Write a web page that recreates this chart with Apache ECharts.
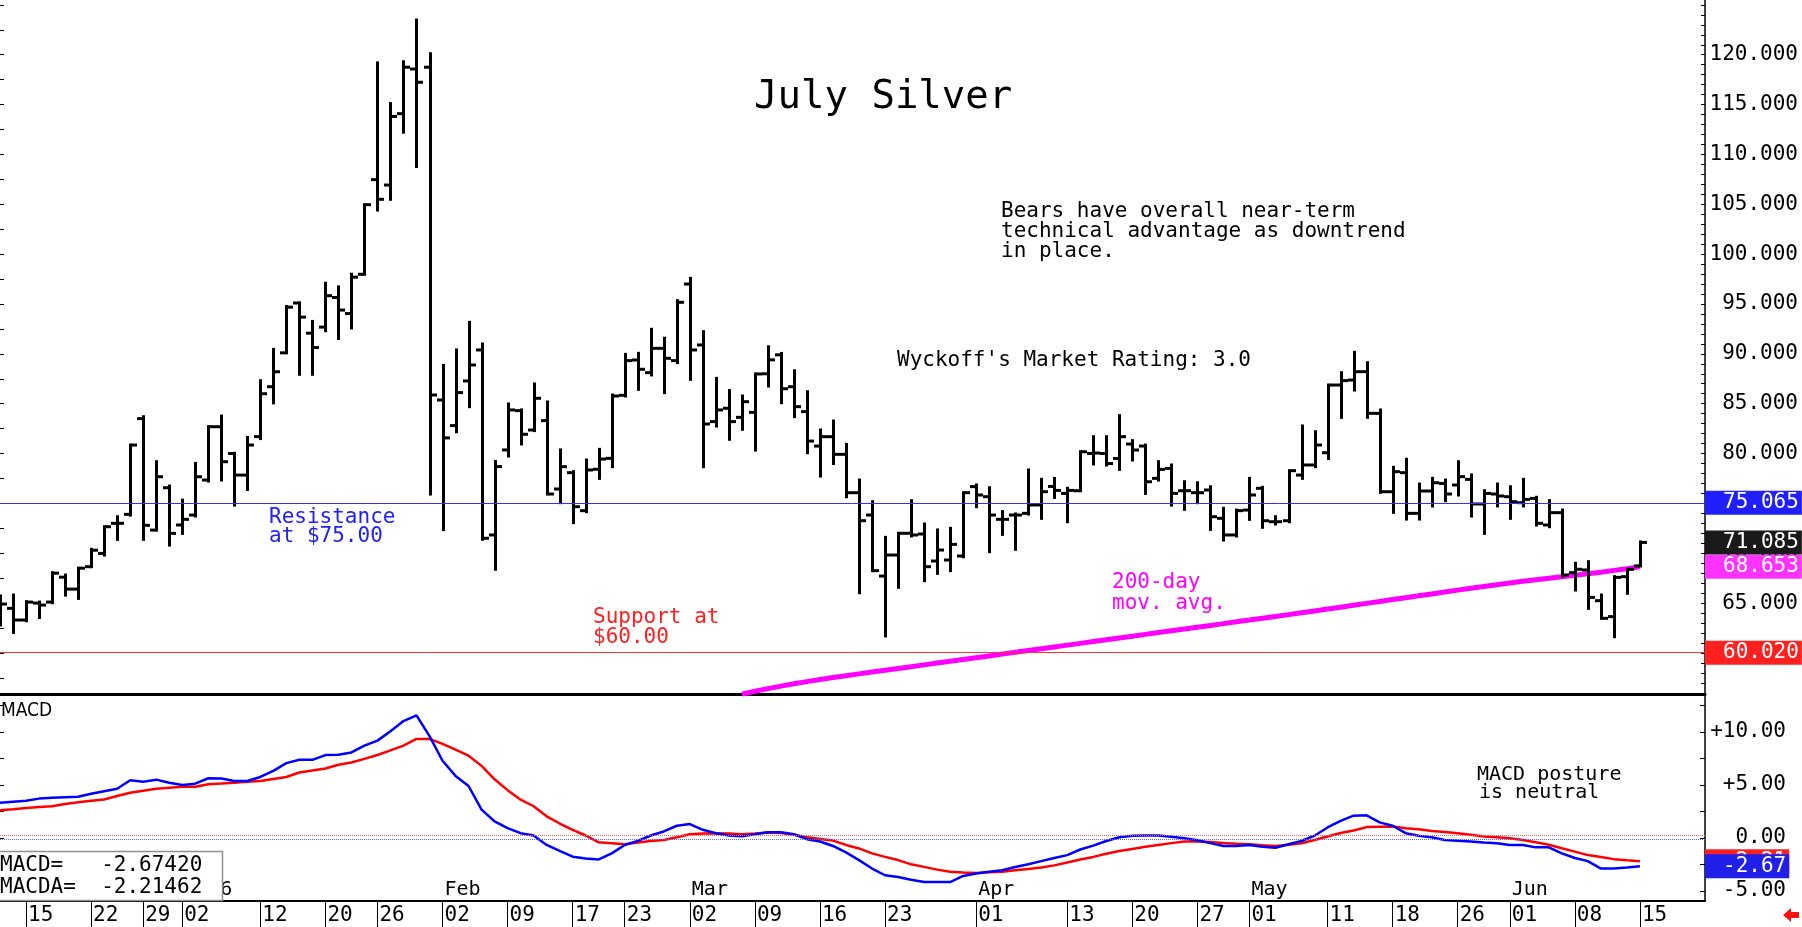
<!DOCTYPE html>
<html>
<head>
<meta charset="utf-8">
<title>July Silver</title>
<script src="https://cdn.jsdelivr.net/npm/echarts@6/dist/echarts.min.js"></script>
<style>
  html, body { margin: 0; padding: 0; background: #fff; }
  #chart { width: 1802px; height: 927px; }
</style>
</head>
<body>
<div id="chart"></div>
<script>
// trading days shown on the chart
const dates = [
  '2025-12-11', '2025-12-12', '2025-12-15', '2025-12-16', '2025-12-17', '2025-12-18', '2025-12-19',
  '2025-12-22', '2025-12-23', '2025-12-24', '2025-12-26', '2025-12-29', '2025-12-30', '2025-12-31',
  '2026-01-02', '2026-01-05', '2026-01-06', '2026-01-07', '2026-01-08', '2026-01-09',
  '2026-01-12', '2026-01-13', '2026-01-14', '2026-01-15', '2026-01-16',
  '2026-01-20', '2026-01-21', '2026-01-22', '2026-01-23',
  '2026-01-26', '2026-01-27', '2026-01-28', '2026-01-29', '2026-01-30',
  '2026-02-02', '2026-02-03', '2026-02-04', '2026-02-05', '2026-02-06',
  '2026-02-09', '2026-02-10', '2026-02-11', '2026-02-12', '2026-02-13',
  '2026-02-17', '2026-02-18', '2026-02-19', '2026-02-20',
  '2026-02-23', '2026-02-24', '2026-02-25', '2026-02-26', '2026-02-27',
  '2026-03-02', '2026-03-03', '2026-03-04', '2026-03-05', '2026-03-06',
  '2026-03-09', '2026-03-10', '2026-03-11', '2026-03-12', '2026-03-13',
  '2026-03-16', '2026-03-17', '2026-03-18', '2026-03-19', '2026-03-20',
  '2026-03-23', '2026-03-24', '2026-03-25', '2026-03-26', '2026-03-27',
  '2026-03-30', '2026-03-31', '2026-04-01', '2026-04-02',
  '2026-04-06', '2026-04-07', '2026-04-08', '2026-04-09', '2026-04-10',
  '2026-04-13', '2026-04-14', '2026-04-15', '2026-04-16', '2026-04-17',
  '2026-04-20', '2026-04-21', '2026-04-22', '2026-04-23', '2026-04-24',
  '2026-04-27', '2026-04-28', '2026-04-29', '2026-04-30', '2026-05-01',
  '2026-05-04', '2026-05-05', '2026-05-06', '2026-05-07', '2026-05-08',
  '2026-05-11', '2026-05-12', '2026-05-13', '2026-05-14', '2026-05-15',
  '2026-05-18', '2026-05-19', '2026-05-20', '2026-05-21', '2026-05-22',
  '2026-05-26', '2026-05-27', '2026-05-28', '2026-05-29',
  '2026-06-01', '2026-06-02', '2026-06-03', '2026-06-04', '2026-06-05',
  '2026-06-08', '2026-06-09', '2026-06-10', '2026-06-11', '2026-06-12',
  '2026-06-15'
];
// empty slots to the right of the last bar
const futureDates = ['2026-06-16', '2026-06-17', '2026-06-18', '2026-06-22', '2026-06-23'];

const opens = [
  64.2, 64.47, 63.3, 65.0, 65.1, 67.6, 66.4, 68.65, 69.98, 73.0,
  73.9, 83.5, 72.32, 76.57, 72.83, 73.83, 77.34, 82.69, 80.0, 77.84,
  81.7, 86.7, 90.1, 95.1, 92.07, 92.68, 95.65, 94.04, 97.98, 107.47,
  106.93, 114.09, 118.57, 118.75, 85.37, 82.8, 87.28, 90.39, 71.83, 80.36,
  84.3, 82.36, 83.3, 76.44, 78.08, 74.27, 78.42, 79.52, 85.84, 89.38,
  88.11, 90.55, 89.32, 97.0, 90.89, 83.2, 84.54, 83.63, 84.13, 88.0,
  89.9, 86.7, 84.2, 80.75, 81.69, 79.92, 76.07, 73.83, 67.71, 69.82,
  72.0, 71.93, 69.22, 69.32, 69.72, 76.68, 75.67, 73.4, 73.83, 74.0,
  74.84, 76.7, 76.0, 76.27, 80.0, 80.0, 79.5, 80.95, 80.75, 77.51,
  78.51, 76.27, 76.07, 76.34, 73.5, 71.83, 74.33, 76.51, 73.16, 73.26,
  77.84, 78.85, 80.08, 86.87, 87.37, 88.21, 84.03, 76.17, 78.08, 74.0,
  76.24, 77.0, 76.84, 77.41, 74.94, 75.94, 75.67, 75.07, 75.5, 72.83,
  74.07, 68.05, 68.32, 65.24, 63.64, 67.65, 68.72
];
const highs = [
  65.7, 65.8, 65.14, 65.1, 68.05, 67.81, 68.5, 70.39, 72.66, 73.66,
  80.85, 83.69, 79.18, 76.74, 75.33, 79.01, 82.69, 83.76, 80.02, 81.62,
  87.3, 90.45, 94.75, 95.11, 93.25, 97.08, 96.72, 97.98, 104.96, 119.18,
  115.1, 119.29, 123.48, 120.11, 88.84, 90.39, 93.16, 90.99, 79.19, 84.97,
  84.37, 86.98, 85.17, 80.36, 78.18, 79.35, 80.42, 85.87, 89.95, 90.05,
  92.46, 91.56, 95.33, 97.57, 92.22, 87.54, 86.31, 85.77, 87.98, 90.71,
  90.04, 88.3, 86.2, 82.36, 83.26, 80.92, 77.34, 75.17, 71.59, 72.0,
  75.27, 72.93, 72.33, 72.5, 76.07, 76.84, 76.57, 74.17, 73.93, 78.35,
  77.41, 77.5, 76.51, 80.18, 81.69, 81.69, 83.8, 81.29, 80.85, 79.18,
  78.85, 77.17, 77.07, 76.67, 74.5, 74.33, 77.51, 76.61, 73.66, 78.28,
  82.76, 82.19, 86.87, 88.11, 90.15, 89.11, 84.37, 78.62, 79.42, 76.94,
  77.51, 77.34, 79.18, 77.85, 76.27, 76.94, 76.67, 77.41, 75.61, 75.27,
  74.33, 68.99, 69.15, 65.81, 67.65, 68.39, 71.13
];
const lows = [
  62.8, 62.06, 63.23, 63.56, 65.04, 65.8, 65.47, 68.65, 69.82, 71.39,
  73.83, 71.39, 72.32, 70.82, 71.99, 73.73, 77.24, 77.34, 74.83, 76.4,
  81.5, 85.08, 90.1, 87.95, 87.95, 92.32, 91.53, 92.6, 97.98, 104.42,
  105.5, 112.23, 108.79, 75.95, 72.37, 82.19, 84.7, 71.4, 68.39, 79.75,
  80.96, 82.3, 75.94, 75.07, 73.07, 74.17, 77.51, 78.68, 85.77, 86.44,
  87.88, 86.11, 89.12, 87.44, 78.68, 82.76, 81.43, 82.43, 80.35, 86.77,
  85.1, 83.7, 80.08, 77.74, 79.0, 75.67, 66.04, 68.25, 61.7, 66.58,
  71.73, 67.25, 67.98, 68.25, 69.65, 74.67, 70.16, 71.89, 70.39, 73.93,
  73.5, 75.6, 73.16, 76.27, 78.95, 78.85, 78.41, 79.35, 76.0, 77.34,
  74.83, 74.4, 75.07, 72.39, 71.32, 71.73, 73.4, 72.6, 72.93, 73.16,
  77.51, 78.68, 79.51, 83.63, 86.37, 83.63, 76.11, 74.1, 73.43, 73.43,
  74.74, 75.27, 75.84, 73.73, 71.99, 74.74, 73.5, 74.74, 72.83, 72.66,
  67.71, 66.31, 64.47, 63.47, 61.63, 65.98, 68.72
];
const closes = [
  64.9, 63.3, 65.1, 64.8, 68.0, 66.4, 68.5, 70.3, 72.66, 73.0,
  80.85, 72.8, 77.67, 71.99, 73.4, 77.67, 82.69, 79.18, 77.84, 80.85,
  86.0, 88.2, 94.68, 93.68, 90.63, 95.83, 94.39, 97.69, 104.96, 105.5,
  113.81, 118.75, 117.24, 85.87, 81.57, 86.11, 88.88, 71.5, 78.69, 84.37,
  81.93, 85.54, 75.94, 78.68, 74.67, 78.35, 79.45, 85.77, 89.32, 88.45,
  90.55, 89.55, 95.17, 90.39, 82.96, 84.37, 83.2, 85.2, 87.98, 89.4,
  86.5, 84.7, 81.25, 81.69, 79.92, 76.07, 73.26, 68.25, 69.82, 72.0,
  71.83, 68.65, 70.32, 70.89, 76.07, 75.84, 73.83, 73.4, 73.83, 74.84,
  76.17, 76.3, 76.3, 80.18, 80.05, 79.0, 81.69, 80.35, 77.17, 78.41,
  76.0, 76.27, 76.07, 73.66, 71.83, 74.27, 75.84, 73.26, 73.16, 78.28,
  78.85, 80.85, 86.87, 87.31, 88.21, 84.03, 76.17, 78.18, 74.0, 76.24,
  77.07, 75.94, 77.68, 74.94, 76.0, 75.74, 75.17, 75.4, 73.0, 74.07,
  67.81, 68.39, 65.57, 63.47, 67.58, 68.39, 71.085
];

// 200-day moving average, visible from bar maStart onward
const maStart = 57;
const ma200 = [
  55.86, 56.15, 56.42, 56.67, 56.9, 57.12, 57.33, 57.53, 57.72, 57.9,
  58.08, 58.26, 58.44, 58.62, 58.8, 58.98, 59.16, 59.34, 59.52, 59.7,
  59.88, 60.06, 60.24, 60.42, 60.6, 60.78, 60.96, 61.14, 61.32, 61.5,
  61.68, 61.86, 62.04, 62.22, 62.4, 62.58, 62.76, 62.94, 63.12, 63.3,
  63.48, 63.66, 63.84, 64.02, 64.21, 64.4, 64.59, 64.78, 64.97, 65.16,
  65.35, 65.54, 65.73, 65.92, 66.11, 66.3, 66.48, 66.66, 66.84, 67.01,
  67.18, 67.34, 67.5, 67.65, 67.8, 67.95, 68.1, 68.28, 68.45, 68.653
];

const macd = [
  3.3, 3.4, 3.5, 3.7, 3.77, 3.82, 3.87, 4.15, 4.4, 4.63,
  5.43, 5.3, 5.49, 5.2, 4.98, 5.11, 5.62, 5.59, 5.36, 5.36,
  5.74, 6.32, 7.05, 7.36, 7.36, 7.81, 7.84, 8.06, 8.7, 9.17,
  10.06, 11.02, 11.56, 9.6, 7.27, 5.84, 4.89, 2.66, 1.55, 0.92,
  0.44, 0.22, -0.67, -1.24, -1.78, -1.95, -2.04, -1.47, -0.67, -0.29,
  0.22, 0.6, 1.14, 1.3, 0.76, 0.44, 0.22, 0.15, 0.34, 0.53,
  0.53, 0.34, -0.13, -0.35, -0.77, -1.37, -2.1, -2.9, -3.53, -3.69,
  -3.95, -4.17, -4.17, -4.17, -3.6, -3.37, -3.2, -3.06, -2.75, -2.5,
  -2.2, -1.9, -1.63, -1.1, -0.74, -0.3, 0.06, 0.2, 0.22, 0.22,
  0.1, -0.04, -0.23, -0.5, -0.77, -0.77, -0.67, -0.85, -0.93, -0.6,
  -0.3, 0.2, 0.98, 1.6, 2.09, 2.12, 1.46, 1.14, 0.44, 0.2,
  0.06, -0.2, -0.28, -0.35, -0.45, -0.51, -0.67, -0.67, -0.9, -0.9,
  -1.47, -1.9, -2.2, -2.9, -2.9, -2.8, -2.6742
];
const signal = [
  2.6, 2.7, 2.82, 2.9, 2.98, 3.2, 3.36, 3.5, 3.62, 3.95,
  4.25, 4.45, 4.63, 4.72, 4.82, 4.82, 5.05, 5.12, 5.2, 5.28,
  5.36, 5.55, 5.74, 6.16, 6.35, 6.54, 6.89, 7.11, 7.45, 7.81,
  8.25, 8.7, 9.33, 9.33, 8.86, 8.32, 7.75, 6.79, 5.52, 4.5,
  3.6, 2.98, 2.03, 1.35, 0.75, 0.22, -0.42, -0.51, -0.61, -0.45,
  -0.3, -0.2, 0.06, 0.34, 0.4, 0.44, 0.4, 0.34, 0.4, 0.5,
  0.46, 0.3, 0.06, -0.1, -0.26, -0.67, -1.0, -1.47, -1.8, -2.1,
  -2.5, -2.74, -3.0, -3.21, -3.28, -3.31, -3.25, -3.21, -3.06, -2.95,
  -2.8, -2.6, -2.32, -2.05, -1.8, -1.5, -1.25, -1.05, -0.85, -0.67,
  -0.5, -0.35, -0.35, -0.4, -0.48, -0.55, -0.61, -0.7, -0.77, -0.65,
  -0.51, -0.2, 0.12, 0.45, 0.69, 1.01, 1.04, 1.07, 0.9, 0.8,
  0.65, 0.55, 0.44, 0.3, 0.12, 0.05, -0.04, -0.2, -0.42, -0.65,
  -0.99, -1.3, -1.63, -1.8, -2.01, -2.12, -2.21462
];

// axis labelling
const dayTicks = [
  '2025-12-15', '2025-12-22', '2025-12-29', '2026-01-02', '2026-01-12', '2026-01-20', '2026-01-26',
  '2026-02-02', '2026-02-09', '2026-02-17', '2026-02-23', '2026-03-02', '2026-03-09', '2026-03-16',
  '2026-03-23', '2026-04-01', '2026-04-13', '2026-04-20', '2026-04-27', '2026-05-01', '2026-05-11',
  '2026-05-18', '2026-05-26', '2026-06-01', '2026-06-08', '2026-06-15'
];
const monthTicks = ['2026-01-02', '2026-02-02', '2026-03-02', '2026-04-01', '2026-05-01', '2026-06-01'];
const monthNames = ['Jan', 'Feb', 'Mar', 'Apr', 'May', 'Jun', 'Jul', 'Aug', 'Sep', 'Oct', 'Nov', 'Dec'];
const priceLabels = [60, 65, 70, 75, 80, 85, 90, 95, 100, 105, 110, 115, 120];
const macdLabels = [-5, 0, 5, 10];
const resistance = 75.065;
const support = 60.02;

const mono = "'DejaVu Sans Mono', monospace";
const narrow = "'Liberation Sans Narrow', 'DejaVu Sans Condensed', 'Liberation Sans', sans-serif";

const allDates = dates.concat(futureDates);
const daySet = new Set(dayTicks);
const monthSet = new Set(monthTicks);

// minor ticks
const priceMinor = [];
for (let v = 56; v <= 125; v++) priceMinor.push(v);
const priceEdge = [];
for (let v = 57.5; v <= 125; v += 2.5) priceEdge.push(v);
const macdEdge = [];
for (let v = -5; v <= 12.5; v += 2.5) macdEdge.push(v);

const barData = dates.map((d, i) => [i, opens[i], highs[i], lows[i], closes[i]]);
const maData = new Array(maStart).fill(null).concat(ma200);

// OHLC bar: high-low stem, open tick left, close tick right
function renderBar (params, api) {
  const i = api.value(0);
  const x = Math.round(api.coord([i, 0])[0]) + 0.5;
  const yo = api.coord([i, api.value(1)])[1];
  const yh = api.coord([i, api.value(2)])[1];
  const yl = api.coord([i, api.value(3)])[1];
  const yc = api.coord([i, api.value(4)])[1];
  const style = { fill: '#000' };
  return {
    type: 'group',
    children: [
      { type: 'rect', shape: { x: x - 1.5, y: yh - 1.5, width: 3, height: yl - yh + 3 }, style },
      { type: 'rect', shape: { x: x - 6.5, y: yo - 1.5, width: 6, height: 3 }, style },
      { type: 'rect', shape: { x: x + 0.5, y: yc - 1.5, width: 6, height: 3 }, style }
    ]
  };
}

// value tag on the right axis (line hidden unless a style is given)
function tag (value, bg, text, lineStyle) {
  return {
    yAxis: value,
    lineStyle: lineStyle || { color: 'rgba(0,0,0,0)', width: 1 },
    label: {
      show: true,
      position: 'end',
      distance: 0,
      formatter: () => text,
      color: '#fff',
      backgroundColor: bg,
      fontFamily: mono,
      fontSize: 21,
      lineHeight: 22,
      padding: [1, 3, 1, 18]
    }
  };
}

function txt (text, x, y, size, color, family) {
  return {
    type: 'text', x, y, z: 100,
    style: { text, font: size + 'px ' + (family || mono), fill: color, verticalAlign: 'middle' }
  };
}

const lastMacd = macd[macd.length - 1];
const lastSignal = signal[signal.length - 1];

const option = {
  animation: false,
  backgroundColor: '#fff',
  grid: [
    { left: 0, right: 97, top: 0, height: 694, containLabel: false, outerBoundsMode: 'none' },
    { left: 0, right: 97, top: 694, height: 207, containLabel: false, outerBoundsMode: 'none' }
  ],
  xAxis: [
    { gridIndex: 0, type: 'category', data: allDates, boundaryGap: false, show: false },
    {
      gridIndex: 1, type: 'category', data: allDates, boundaryGap: false, position: 'bottom',
      axisLine: { onZero: false, lineStyle: { color: '#000', width: 2 } },
      axisTick: { interval: (i, v) => daySet.has(v), length: 26, lineStyle: { color: '#000', width: 1 } },
      axisLabel: {
        interval: (i, v) => daySet.has(v),
        formatter: v => v.slice(8),
        align: 'left', padding: [0, 0, 0, 2], margin: 4,
        fontFamily: mono, fontSize: 21, color: '#000'
      },
      splitLine: { show: false }
    },
    {
      gridIndex: 1, type: 'category', data: allDates, boundaryGap: false, position: 'bottom',
      axisLine: { show: false, onZero: false }, axisTick: { show: false }, splitLine: { show: false },
      axisLabel: {
        inside: true,
        interval: (i, v) => monthSet.has(v),
        formatter: v => {
          const m = +v.slice(5, 7);
          return m === 1 ? v.slice(0, 4) : monthNames[m - 1];
        },
        align: 'left', padding: [0, 0, 0, 2], margin: 1,
        fontFamily: mono, fontSize: 20, color: '#000'
      }
    },
    {
      gridIndex: 1, type: 'category', data: allDates, boundaryGap: false, position: 'top',
      axisLine: { onZero: false, lineStyle: { color: '#000', width: 3 } },
      axisTick: { show: false }, axisLabel: { show: false }, splitLine: { show: false }
    }
  ],
  yAxis: [
    {
      gridIndex: 0, type: 'value', position: 'right', min: 55.88, max: 125.49,
      splitLine: { show: false },
      axisLine: { show: true, onZero: false, lineStyle: { color: '#000', width: 1.5 } },
      axisTick: { show: true, inside: true, length: 4, customValues: priceMinor, lineStyle: { color: '#000' } },
      axisLabel: {
        customValues: priceLabels, formatter: v => v.toFixed(3),
        align: 'right', margin: 93, fontFamily: mono, fontSize: 21, color: '#000'
      }
    },
    {
      gridIndex: 0, type: 'value', position: 'left', min: 55.88, max: 125.49,
      splitLine: { show: false }, axisLine: { show: false, onZero: false }, axisLabel: { show: false },
      axisTick: { show: true, inside: true, length: 4, customValues: priceEdge, lineStyle: { color: '#000' } }
    },
    {
      gridIndex: 1, type: 'value', position: 'right', min: -5.96, max: 13.57,
      splitLine: { show: false },
      axisLine: { show: true, onZero: false, lineStyle: { color: '#000', width: 1.5 } },
      axisTick: { show: true, inside: true, length: 5, customValues: macdEdge, lineStyle: { color: '#000' } },
      axisLabel: {
        customValues: macdLabels, formatter: v => (v > 0 ? '+' : '') + v.toFixed(2),
        align: 'right', margin: 81, fontFamily: mono, fontSize: 21, color: '#000'
      }
    },
    {
      gridIndex: 1, type: 'value', position: 'left', min: -5.96, max: 13.57,
      splitLine: { show: false }, axisLine: { show: false, onZero: false }, axisLabel: { show: false },
      axisTick: { show: true, inside: true, length: 4, customValues: macdEdge, lineStyle: { color: '#000' } }
    }
  ],
  series: [
    {
      name: 'ma200', type: 'line', xAxisIndex: 0, yAxisIndex: 0, data: maData,
      showSymbol: false, z: 2,
      lineStyle: { color: '#ff00ff', width: 5 },
      markLine: {
        silent: true, symbol: ['none', 'none'], animation: false,
        data: [tag(ma200[ma200.length - 1], '#ff33ff', ma200[ma200.length - 1].toFixed(3))]
      }
    },
    {
      name: 'bars', type: 'custom', xAxisIndex: 0, yAxisIndex: 0, data: barData,
      renderItem: renderBar, encode: { x: 0, y: [1, 2, 3, 4] }, z: 3,
      markLine: {
        silent: true, symbol: ['none', 'none'], animation: false,
        data: [
          tag(resistance, '#2020ff', resistance.toFixed(3), { color: '#3030ff', width: 1, type: 'solid' }),
          tag(support, '#ff2020', support.toFixed(3), { color: '#ff3030', width: 1, type: 'solid' }),
          tag(closes[closes.length - 1], '#1a1a1a', closes[closes.length - 1].toFixed(3))
        ]
      }
    },
    {
      name: 'MACDA', type: 'line', xAxisIndex: 1, yAxisIndex: 2, data: signal,
      showSymbol: false, z: 2,
      lineStyle: { color: '#ff0000', width: 2.5 },
      markLine: {
        silent: true, symbol: ['none', 'none'], animation: false,
        data: [
          { yAxis: 0.2, lineStyle: { color: '#ff6060', width: 1, type: 'dotted' }, label: { show: false } },
          tag(lastSignal, '#ff2020', lastSignal.toFixed(2))
        ]
      }
    },
    {
      name: 'MACD', type: 'line', xAxisIndex: 1, yAxisIndex: 2, data: macd,
      showSymbol: false, z: 3,
      lineStyle: { color: '#0000ff', width: 2.5 },
      markLine: {
        silent: true, symbol: ['none', 'none'], animation: false,
        data: [
          { yAxis: -0.17, lineStyle: { color: '#6060ff', width: 1, type: 'dotted' }, label: { show: false } },
          tag(lastMacd, '#2020e8', lastMacd.toFixed(2))
        ]
      }
    }
  ],
  graphic: {
    elements: [
      txt('July Silver', 754, 98, 39, '#000'),
      txt('Bears have overall near-term', 1001, 212, 21, '#000'),
      txt('technical advantage as downtrend', 1001, 232, 21, '#000'),
      txt('in place.', 1001, 252, 21, '#000'),
      txt("Wyckoff's Market Rating: 3.0", 897, 361, 21, '#000'),
      txt('Resistance', 269, 518, 21, '#2020ff'),
      txt('at $75.00', 269, 537, 21, '#2020ff'),
      txt('Support at', 593, 618, 21, '#ff2020'),
      txt('$60.00', 593, 638, 21, '#ff2020'),
      txt('200-day', 1112, 583, 21, '#ff00ff'),
      txt('mov. avg.', 1112, 604, 21, '#ff00ff'),
      txt('MACD', 1, 711, 19, '#000', narrow),
      txt('MACD posture', 1477, 775, 20, '#000'),
      txt('is neutral', 1479, 793, 20, '#000'),
      {
        type: 'rect', z: 99,
        shape: { x: -1, y: 851.5, width: 223.5, height: 49 },
        style: { fill: '#fff', stroke: '#909090', lineWidth: 1.5 }
      },
      txt('MACD=   ' + lastMacd.toFixed(5), 0, 866, 21, '#000'),
      txt('MACDA=  ' + lastSignal.toFixed(5), 0, 888, 21, '#000'),
      {
        type: 'polygon', z: 100,
        shape: { points: [[1783, 915], [1791, 908], [1791, 912], [1799, 912], [1799, 918], [1791, 918], [1791, 922]] },
        style: { fill: '#ff1010' }
      }
    ]
  }
};

const myChart = echarts.init(document.getElementById('chart'), null, { renderer: 'canvas' });
myChart.setOption(option);
</script>
</body>
</html>
